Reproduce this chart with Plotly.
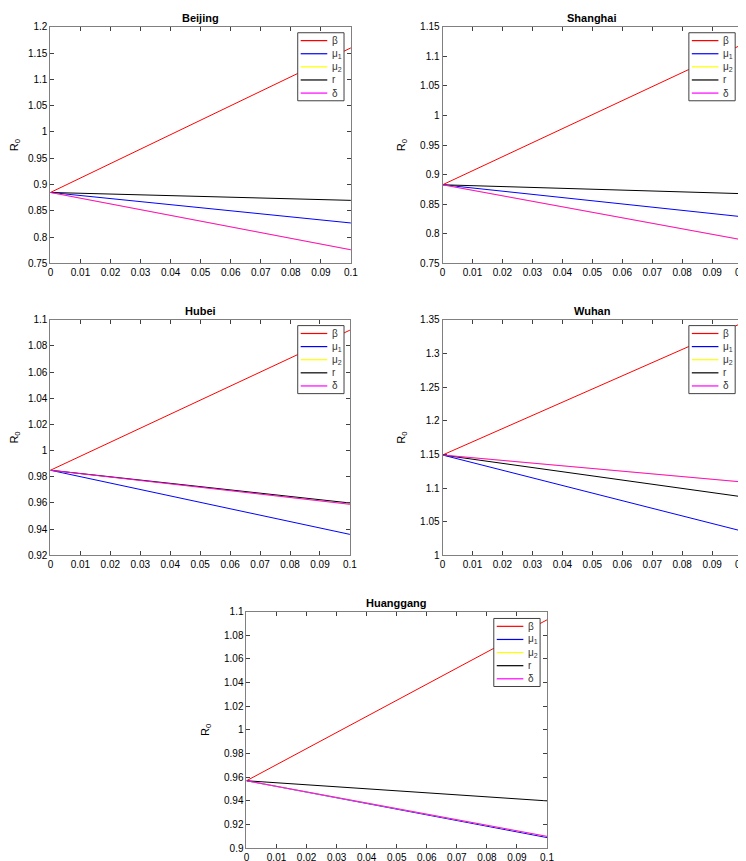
import plotly.graph_objects as go

W, H = 746, 861

x_vals = [0, 0.1]
series_names = ["β", "μ<sub>1</sub>", "μ<sub>2</sub>", "r", "δ"]
series_colors = ["#ff0000", "#0000ff", "#ffff00", "#000000", "#ff00ff"]

regions = ["Beijing", "Shanghai", "Hubei", "Wuhan", "Huanggang"]

# R0 at x=0 and x=0.1 for each parameter (beta, mu1, mu2, r, delta)
beijing = {"β": [0.885, 1.160], "μ1": [0.885, 0.827], "μ2": [0.885, 0.776], "r": [0.885, 0.870], "δ": [0.885, 0.776]}
shanghai = {"β": [0.883, 1.120], "μ1": [0.883, 0.829], "μ2": [0.883, 0.790], "r": [0.883, 0.868], "δ": [0.883, 0.790]}
hubei = {"β": [0.985, 1.092], "μ1": [0.985, 0.936], "μ2": [0.985, 0.959], "r": [0.985, 0.960], "δ": [0.985, 0.959]}
wuhan = {"β": [1.149, 1.345], "μ1": [1.149, 1.036], "μ2": [1.149, 1.109], "r": [1.149, 1.087], "δ": [1.149, 1.109]}
huanggang = {"β": [0.957, 1.093], "μ1": [0.957, 0.909], "μ2": [0.957, 0.910], "r": [0.957, 0.940], "δ": [0.957, 0.910]}
data = [beijing, shanghai, hubei, wuhan, huanggang]
keys = ["β", "μ1", "μ2", "r", "δ"]

y_ranges = [[0.75, 1.2], [0.75, 1.15], [0.92, 1.1], [1.0, 1.35], [0.9, 1.1]]
y_dticks = [0.05, 0.05, 0.02, 0.05, 0.02]
x_ticks = [0, 0.01, 0.02, 0.03, 0.04, 0.05, 0.06, 0.07, 0.08, 0.09, 0.1]
x_ticklabels = ["0", "0.01", "0.02", "0.03", "0.04", "0.05", "0.06", "0.07", "0.08", "0.09", "0.1"]

# panel pixel boxes (left, right, top, bottom)
boxes = [(39, 344, 13, 253), (437, 741, 13, 253),
         (39, 343, 310, 549), (437, 741, 310, 549),
         (238, 543, 606, 846)]
legend_pos = [(337, 19), (734, 19), (337, 316), (734, 316), (536, 613)]

fig = go.Figure()
shapes = []
annotations = []
layout = dict(width=W, height=H, margin=dict(l=0, r=0, t=0, b=0),
              paper_bgcolor="white", plot_bgcolor="white", showlegend=False,
              font=dict(family="Liberation Sans, Arial, sans-serif", size=10, color="black"))


def px(xp):
    return xp / W


def py(yp):
    return 1 - yp / H


for i, (name, d) in enumerate(zip(regions, data)):
    n = i + 1
    xa = "x" if n == 1 else f"x{n}"
    ya = "y" if n == 1 else f"y{n}"
    for k, sname, col in zip(keys, series_names, series_colors):
        fig.add_trace(go.Scatter(x=x_vals, y=d[k], mode="lines", name=sname,
                                 line=dict(color=col, width=1), xaxis=xa, yaxis=ya))
    l, r, t, b = boxes[i]
    axis_common = dict(showline=True, linecolor="#808080", linewidth=1, mirror="ticks",
                       ticks="inside", ticklen=4, tickcolor="#404040", showgrid=False,
                       zeroline=False, tickfont=dict(size=10, color="black"))
    layout[f"xaxis{'' if n == 1 else n}"] = dict(
        domain=[l / W, r / W], anchor=ya, range=[0, 0.1],
        tickvals=x_ticks, ticktext=x_ticklabels, **axis_common)
    layout[f"yaxis{'' if n == 1 else n}"] = dict(
        domain=[1 - b / H, 1 - t / H], anchor=xa, range=y_ranges[i],
        dtick=y_dticks[i], tick0=0, tickformat="~g",
        title=dict(text="R<sub>0</sub>", font=dict(size=11), standoff=12), **axis_common)
    annotations.append(dict(text="<b>" + name + "</b>", x=(l + r) / 2 / W, y=1 - (t - 1) / H,
                            xref="paper", yref="paper", xanchor="center",
                            yanchor="bottom", showarrow=False,
                            font=dict(size=11, color="black")))
    # legend box (layout decoration)
    rx, ty = legend_pos[i]
    bw, bh = 47, 69
    shapes.append(dict(type="rect", xref="paper", yref="paper",
                       x0=px(rx - bw), x1=px(rx), y0=py(ty + bh), y1=py(ty),
                       line=dict(color="#404040", width=1), fillcolor="white", layer="above"))
    for j, (sname, col) in enumerate(zip(series_names, series_colors)):
        yy = ty + 8 + 13.3 * j
        shapes.append(dict(type="line", xref="paper", yref="paper",
                           x0=px(rx - 44), x1=px(rx - 17), y0=py(yy), y1=py(yy),
                           line=dict(color=col, width=1.2), layer="above"))
        annotations.append(dict(text=sname, x=px(rx - 14), y=py(yy), xref="paper", yref="paper",
                                xanchor="left", yanchor="middle", showarrow=False,
                                font=dict(size=10, color="#333333")))

layout["shapes"] = shapes
layout["annotations"] = annotations
fig.update_layout(**layout)
fig.write_html("out.html")
